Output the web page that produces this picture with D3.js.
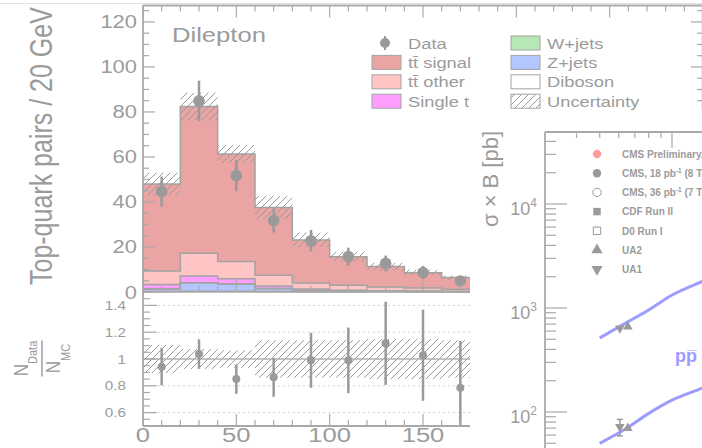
<!DOCTYPE html>
<html><head><meta charset="utf-8">
<script src="https://cdn.jsdelivr.net/npm/d3@7"></script>
<style>html,body{margin:0;padding:0;background:#fff;overflow:hidden}svg{display:block}</style>
</head><body>
<svg id="c" width="702" height="448"></svg>
<script>
// ---------------- data: main dilepton histogram ----------------
const binLow = [0, 20, 40, 60, 80, 100, 120, 140, 160];
const binWidth = 20;
const diboson   = [0.2, 0.3, 0.3, 0.2, 0.1, 0.1, 0.1, 0.05, 0.05];
const zjets     = [1.1, 3.8, 3.3, 1.3, 0.6, 0.4, 0.2, 0.15, 0.05];
const wjets     = [0, 0, 0, 0, 0, 0, 0, 0, 0];
const singleTop = [2.0, 3.0, 2.3, 1.2, 0.6, 0.3, 0.2, 0.2, 0.2];
const ttOther   = [6.0, 10.1, 7.6, 4.7, 2.7, 2.2, 1.7, 1.4, 0.9];
const ttSignal  = [38.7, 65.2, 47.8, 30.1, 19.1, 12.7, 9.1, 6.8, 5.2];
const uncRel    = [0.105, 0.075, 0.065, 0.14, 0.14, 0.14, 0.15, 0.15, 0.14];
const dataVal   = [44.6, 84.9, 51.7, 31.7, 22.8, 15.7, 12.7, 8.6, 4.9];
const dataErr   = [6.7, 9.0, 6.9, 5.3, 4.8, 4.0, 3.5, 3.0, 2.2];
const ratioVal  = [0.943, 1.037, 0.85, 0.863, 0.99, 0.99, 1.117, 1.028, 0.785];
const ratioErr  = [0.14, 0.11, 0.11, 0.145, 0.205, 0.245, 0.31, 0.34, 0.35];
const yTopTicks = [0, 20, 40, 60, 80, 100, 120];
const yRatioTicks = [0.6, 0.8, 1, 1.2, 1.4];
const xTickLabels = [0, 50, 100, 150];
const legendLabels = ["Data", "tt\u0304 signal", "tt\u0304 other", "Single t", "W+jets", "Z+jets", "Diboson", "Uncertainty"];

// ---------------- data: overlaid sigma x B panel ----------------
const theoryE = [0.5, 0.63, 0.8, 1.0, 1.33, 1.96];
const theoryW = [515, 702, 956, 1333, 1790, 2600];
const theoryZ = [50, 67, 97, 130, 169, 245];
const uaE = 0.63;
const ua1W = 640, ua2W = 660, ua1Z = 72, ua2Z = 70, ua1ZErr = 13;
const sigmaDecades = [100, 1000, 10000];
const sigmaLegend = ["CMS Preliminary, 5.3 fb|-1| (8 TeV)", "CMS, 18 pb|-1| (8 TeV)", "CMS, 36 pb|-1| (7 TeV)", "CDF Run II", "D0 Run I", "UA2", "UA1"];

// ---------------- setup ----------------
const svg = d3.select('#c');
const SX = 1.22;
const FONT = '"Liberation Sans", Arial, Helvetica, sans-serif';
const GREY = '#9b9b9b', AXIS = '#a9a9a9';

function txt(g, x, y, s, size, anchor = 'start', sx = SX) {
  return g.append('text').attr('transform', `translate(${x},${y}) scale(${sx},1)`)
    .attr('font-family', FONT).attr('font-size', size).attr('fill', GREY)
    .attr('text-anchor', anchor).text(s);
}
function hline(g, x1, x2, y, w = 1.5, c = AXIS) {
  g.append('line').attr('x1', x1).attr('x2', x2).attr('y1', y).attr('y2', y).attr('stroke', c).attr('stroke-width', w);
}
function vline(g, x, y1, y2, w = 1.5, c = AXIS) {
  g.append('line').attr('x1', x).attr('x2', x).attr('y1', y1).attr('y2', y2).attr('stroke', c).attr('stroke-width', w);
}

const defs = svg.append('defs');
const pat = defs.append('pattern').attr('id', 'hatch').attr('patternUnits', 'userSpaceOnUse').attr('width', 7).attr('height', 7);
pat.append('path').attr('d', 'M0,7 L7,0 M-1,1 L1,-1 M6,8 L8,6').attr('stroke', '#9a9a9a').attr('stroke-width', 1);

const x = d3.scaleLinear().domain([0, 300]).range([143, 703]);
const yT = d3.scaleLinear().domain([0, 127.3]).range([292, 5.5]);
const yR = d3.scaleLinear().domain([0.5, 1.5]).range([426, 292]);

const g = svg.append('g');
hline(g, 0, 702, 3.5, 1, '#e4e4e4');

// ---------------- stacked histogram ----------------
const layers = [
  { v: diboson, c: '#ffffff' },
  { v: zjets, c: '#b3c6ff' },
  { v: wjets, c: '#b5e8b5' },
  { v: singleTop, c: '#ff9eff' },
  { v: ttOther, c: '#ffc4c4' },
  { v: ttSignal, c: '#eba4a4' }
];
let base = binLow.map(() => 0);
const stacked = layers.map(L => {
  const pts = binLow.map((b, i) => ({ x: b, b: base[i], t: base[i] + L.v[i] }));
  pts.push({ x: binLow[binLow.length - 1] + binWidth, b: pts[pts.length - 1].b, t: pts[pts.length - 1].t });
  base = base.map((b, i) => b + L.v[i]);
  return { pts, c: L.c };
});
const area = d3.area().x(d => x(d.x)).y0(d => yT(d.b)).y1(d => yT(d.t)).curve(d3.curveStepAfter);
const stepLine = d3.line().x(d => x(d.x)).y(d => yT(d.t)).curve(d3.curveStepAfter);
stacked.forEach(s => g.append('path').attr('d', area(s.pts)).attr('fill', s.c));
stacked.forEach(s => {
  const p = s.pts.slice();
  g.append('path').attr('d', stepLine(p) + `L${x(p[p.length - 1].x)},${yT(0)}`).attr('fill', 'none').attr('stroke', '#a3a3a3').attr('stroke-width', 1.5);
});
g.append('path').attr('d', `M${x(0)},${yT(0)}V${yT(base[0])}`).attr('stroke', '#a3a3a3').attr('stroke-width', 1.5);
// uncertainty hatch
binLow.forEach((b, i) => {
  const tot = base[i];
  g.append('rect').attr('x', x(b)).attr('width', x(b + binWidth) - x(b))
    .attr('y', yT(tot * (1 + uncRel[i]))).attr('height', yT(tot * (1 - uncRel[i])) - yT(tot * (1 + uncRel[i])))
    .attr('fill', 'url(#hatch)');
});
// data
binLow.forEach((b, i) => {
  const cx = x(b + binWidth / 2);
  vline(g, cx, yT(dataVal[i] + dataErr[i]), yT(dataVal[i] - dataErr[i]), 2.5, '#9a9a9a');
  g.append('circle').attr('cx', cx).attr('cy', yT(dataVal[i])).attr('r', 5.8).attr('fill', '#9a9a9a');
});

// ---------------- ratio panel ----------------
yRatioTicks.filter(v => v !== 1).forEach(v => {
  g.append('line').attr('x1', x(0)).attr('x2', x(300)).attr('y1', yR(v)).attr('y2', yR(v))
    .attr('stroke', '#d0d0d0').attr('stroke-width', 1).attr('stroke-dasharray', '2,3');
});
binLow.forEach((b, i) => {
  g.append('rect').attr('x', x(b)).attr('width', x(b + binWidth) - x(b))
    .attr('y', yR(1 + uncRel[i])).attr('height', yR(1 - uncRel[i]) - yR(1 + uncRel[i]))
    .attr('fill', 'url(#hatch)');
});
hline(g, x(0), x(300), yR(1), 1.5, '#b0b0b0');
binLow.forEach((b, i) => {
  const cx = x(b + binWidth / 2);
  vline(g, cx, yR(Math.min(1.5, ratioVal[i] + ratioErr[i])), yR(Math.max(0.5, ratioVal[i] - ratioErr[i])), 2.5, '#9a9a9a');
  g.append('circle').attr('cx', cx).attr('cy', yR(ratioVal[i])).attr('r', 4).attr('fill', '#9a9a9a');
});

// ---------------- axes (main) ----------------
const ax = svg.append('g');
vline(ax, x(0), yT(127.3), yR(0.5), 1.8);
hline(ax, x(0), 703, yT(127.3), 1.8);
hline(ax, x(0), 703, yT(0), 1.5);
hline(ax, x(0), 703, yR(0.5), 1.8);
vline(ax, 702.5, yT(127.3), yR(0.5), 1.5);
for (let v = 0; v <= 125; v += 5) {
  const L = v % 20 === 0 ? 12 : 6;
  hline(ax, x(0), x(0) + L, yT(v), 1.2);
  hline(ax, 703 - L, 703, yT(v), 1.2);
}
for (let v = 0; v <= 300; v += 10) {
  const L = v % 50 === 0 ? 12 : 6;
  vline(ax, x(v), yT(127.3), yT(127.3) + L, 1.2);
  vline(ax, x(v), yT(0) - L, yT(0), 1.2);
  vline(ax, x(v), yR(0.5) - L, yR(0.5), 1.2);
}
for (let k = 0; k <= 20; k++) {
  const major = k % 4 === 2;
  hline(ax, x(0), x(0) + (major ? 14 : 7), yR(0.5 + k * 0.05), 1.2);
}
yTopTicks.forEach(v => txt(ax, 137, yT(v) + 6.5, String(v), 18, 'end'));
yRatioTicks.forEach(v => txt(ax, 126, yR(v) + 4.5, String(v), 12.5, 'end'));
xTickLabels.forEach(v => txt(ax, x(v), 442, String(v), 21, 'middle'));

// axis titles
ax.append('text').attr('transform', 'translate(52,285) rotate(-90) scale(1,1.27)')
  .attr('font-family', FONT).attr('font-size', 25).attr('fill', GREY).text('Top-quark pairs / 20 GeV');
const rt = ax.append('g').attr('transform', 'translate(0,358.5) rotate(-90) scale(1,1.22)');
const num = rt.append('text').attr('x', 0).attr('y', 23).attr('text-anchor', 'middle').attr('font-family', FONT).attr('fill', GREY);
num.append('tspan').attr('font-size', 17).text('N');
num.append('tspan').attr('font-size', 11).attr('dy', 7.5).text('Data');
const den = rt.append('text').attr('x', 0).attr('y', 49).attr('text-anchor', 'middle').attr('font-family', FONT).attr('fill', GREY);
den.append('tspan').attr('font-size', 17).text('N');
den.append('tspan').attr('font-size', 11).attr('dy', 8.5).text('MC');
rt.append('line').attr('x1', -18).attr('x2', 18).attr('y1', 34.4).attr('y2', 34.4).attr('stroke', GREY).attr('stroke-width', 1.2);

txt(ax, 172, 42, 'Dilepton', 21, 'start');

// legend (main)
const lg = svg.append('g');
const legFills = [null, '#eba4a4', '#ffc4c4', '#ff9eff', '#b5e8b5', '#b3c6ff', '#ffffff', 'url(#hatch)'];
legendLabels.forEach((lab, i) => {
  const col = Math.floor(i / 4), row = i % 4;
  const bx = col === 0 ? 372 : 511;
  const cy = 43 + row * 19.4;
  if (i === 0) {
    vline(lg, bx + 13, cy - 7, cy + 7, 2, '#9a9a9a');
    lg.append('circle').attr('cx', bx + 13).attr('cy', cy).attr('r', 5).attr('fill', '#9a9a9a');
  } else {
    lg.append('rect').attr('x', bx).attr('y', cy - 7).attr('width', 29).attr('height', 14)
      .attr('fill', legFills[i]).attr('stroke', '#a3a3a3').attr('stroke-width', 1);
  }
  txt(lg, bx + 36, cy + 5.5, lab, 15, 'start');
});

// ---------------- overlay: sigma x B panel ----------------
const ov = svg.append('g');
ov.append('rect').attr('x', 470).attr('y', 110).attr('width', 240).attr('height', 340).attr('fill', '#fff');
const xs = d3.scaleLog().domain([0.3, 1]).range([546.5, 672]);
const ys = d3.scaleLog().domain([100, 10000]).range([412, 204]);
defs.append('clipPath').attr('id', 'sclip').append('rect').attr('x', 545).attr('y', 132).attr('width', 160).attr('height', 320);

vline(ov, 545, 132, 448, 1.8);
hline(ov, 545, 702, 132, 1.8);
for (let k = 1; k <= 4; k++) {
  for (let m = 1; m <= 9; m++) {
    const v = m * Math.pow(10, k);
    const yy = ys(v);
    if (yy < 133 || yy > 448) continue;
    hline(ov, 545, 545 + (m === 1 ? 22 : 11), yy, 1.2);
  }
}
[0.3, 0.4, 0.5, 0.6, 0.7, 0.8, 0.9, 1, 2, 3].forEach(E => {
  const xx = xs(E);
  if (xx < 547 || xx > 702) return;
  vline(ov, xx, 132, 132 + (E === 1 ? 16 : 6), 1.2);
});
sigmaDecades.forEach(v => {
  const t = ov.append('text').attr('x', 537).attr('y', ys(v) + 11).attr('text-anchor', 'end')
    .attr('font-family', FONT).attr('fill', GREY);
  t.append('tspan').attr('font-size', 18).text('10');
  t.append('tspan').attr('font-size', 12).attr('dy', -8).text(String(Math.round(Math.log10(v))));
});
ov.append('text').attr('transform', 'translate(498,179) rotate(-90)').attr('text-anchor', 'middle')
  .attr('font-family', FONT).attr('font-size', 22).attr('fill', GREY).text('σ × B [pb]');

// legend (sigma)
const symbols = [
  { t: d3.symbolCircle, s: 55, f: '#ff9c9c', st: 'none' },
  { t: d3.symbolCircle, s: 55, f: '#9a9a9a', st: 'none' },
  { t: d3.symbolCircle, s: 55, f: '#fff', st: '#9a9a9a' },
  { t: d3.symbolSquare, s: 55, f: '#9a9a9a', st: 'none' },
  { t: d3.symbolSquare, s: 55, f: '#fff', st: '#9a9a9a' },
  { t: d3.symbolTriangle, s: 55, f: '#9a9a9a', st: 'none' },
  { t: d3.symbolTriangle, s: 55, f: '#9a9a9a', st: 'none', rot: 180 }
];
sigmaLegend.forEach((lab, i) => {
  const cy = 154 + i * 19.2;
  const S = symbols[i];
  ov.append('path').attr('d', d3.symbol().type(S.t).size(S.s)())
    .attr('transform', `translate(597,${cy})` + (S.rot ? ' rotate(180)' : ''))
    .attr('fill', S.f).attr('stroke', S.st).attr('stroke-width', 1);
  const t = ov.append('text').attr('x', 622).attr('y', cy + 3.8).attr('font-family', FONT)
    .attr('font-size', 10).attr('font-weight', 'bold').attr('fill', GREY);
  lab.split('|').forEach((part, j) => {
    if (j === 1) t.append('tspan').attr('font-size', 6.5).attr('dy', -4).text(part);
    else if (j === 2) t.append('tspan').attr('dy', 4).text(part);
    else t.append('tspan').text(part);
  });
});

// curves
const cg = ov.append('g').attr('clip-path', 'url(#sclip)');
const line = d3.line().x(d => xs(d[0])).y(d => ys(d[1])).curve(d3.curveMonotoneX);
[theoryW, theoryZ].forEach(arr => {
  cg.append('path').attr('d', line(theoryE.map((e, i) => [e, arr[i]])))
    .attr('fill', 'none').attr('stroke', '#9c9cff').attr('stroke-width', 3);
});
// UA markers
const tri = d3.symbol().type(d3.symbolTriangle).size(40)();
[[ua1W, -4, 180], [ua2W, 4, 0], [ua1Z, -4, 180], [ua2Z, 4, 0]].forEach(([v, dx, r]) => {
  cg.append('path').attr('d', tri).attr('transform', `translate(${xs(uaE) + dx},${ys(v)}) rotate(${r})`).attr('fill', '#9a9a9a');
});
const exx = xs(uaE) - 4;
vline(cg, exx, ys(ua1Z + ua1ZErr), ys(ua1Z - ua1ZErr), 1.5, '#9a9a9a');
hline(cg, exx - 3, exx + 3, ys(ua1Z + ua1ZErr), 1.5, '#9a9a9a');
hline(cg, exx - 3, exx + 3, ys(ua1Z - ua1ZErr), 1.5, '#9a9a9a');

ov.append('text').attr('x', 675).attr('y', 362).attr('font-family', FONT).attr('font-size', 18)
  .attr('font-weight', 'bold').attr('fill', '#9c9cff').text('pp\u0305');
</script>
</body></html>
